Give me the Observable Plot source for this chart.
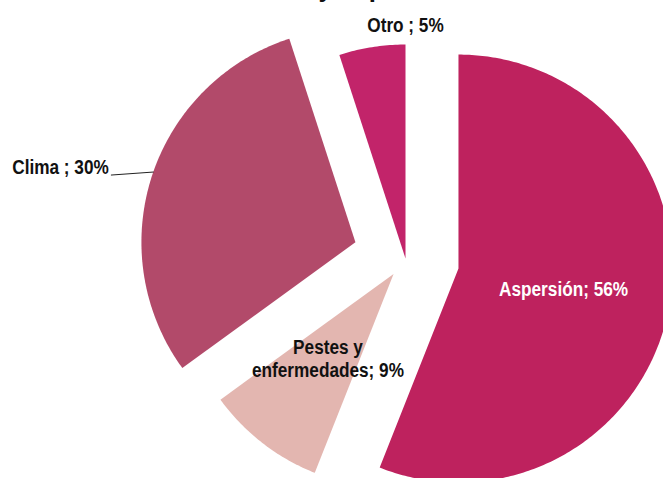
<!DOCTYPE html>
<html>
<head>
<meta charset="utf-8">
<script src="https://cdn.jsdelivr.net/npm/d3@7"></script>
<script src="https://cdn.jsdelivr.net/npm/@observablehq/plot@0.6"></script>
<style>
  html, body { margin: 0; padding: 0; background: #fff; }
  #chart { width: 663px; height: 478px; overflow: hidden; }
</style>
</head>
<body>
<div id="chart"></div>
<script>
// ---- data ----
const categories = ["Aspersión", "Pestes y enfermedades", "Clima", "Otro"];
const shares = [56, 9, 30, 5];
const labels = ["Aspersión; 56%", "Pestes y\nenfermedades; 9%", "Clima ; 30%", "Otro ; 5%"];
const titlePrefix = "Causas de merma ";
const titleRest = "y la pérdida de cosecha";

// ---- style / layout ----
const colors = ["#BE225E", "#E3B6B0", "#B24A6A", "#C2246A"];
const explode = [0.252, 0.091, 0.246, 0];   // radial offset of each slice (in radii)
const W = 663, H = 478, R = 214, CX = 405, CY = 258;
const FONT = "'Liberation Sans', Arial, sans-serif";
const NARROW = 0.86;   // horizontal condensation to imitate Arial Narrow
const TITLE_SIZE = 30;

const arcs = d3.pie().sort(null).value(d => d)(shares);
const pts = [];
const slices = arcs.map((a, i) => {
  const m = (a.startAngle + a.endAngle) / 2;
  const ax = explode[i] * Math.sin(m), ay = explode[i] * Math.cos(m);
  pts.push({cat: categories[i], x: ax, y: ay});
  const n = Math.max(8, Math.ceil((a.endAngle - a.startAngle) * 80));
  for (let k = 0; k <= n; k++) {
    const t = a.startAngle + (a.endAngle - a.startAngle) * k / n;
    pts.push({cat: categories[i], x: ax + Math.sin(t), y: ay + Math.cos(t)});
  }
  pts.push({cat: categories[i], x: ax, y: ay});
  return {i, m, ax, ay, a};
});

// label positions
const inside = [], outside = [], leaders = [];
slices.forEach(s => {
  const cat = categories[s.i];
  if (cat === "Aspersión" || cat === "Pestes y enfermedades") {
    inside.push({label: labels[s.i], x: s.ax + 0.5 * Math.sin(s.m), y: s.ay + 0.5 * Math.cos(s.m),
                 fill: cat === "Aspersión" ? "#fff" : "#111"});
  } else if (cat === "Otro") {
    const t = s.a.endAngle;
    outside.push({label: labels[s.i], x: s.ax + 1.09 * Math.sin(t), y: s.ay + 1.09 * Math.cos(t), anchor: "middle"});
  } else {
    const px = s.ax + Math.sin(s.m + 0.02), py = s.ay + Math.cos(s.m + 0.02);
    const ex = px - 0.196, ey = py - 0.014;
    leaders.push({x: px, y: py}, {x: ex, y: ey});
    outside.push({label: labels[s.i], x: ex - 0.012, y: ey + 0.035, anchor: "end"});
  }
});

// place the (cropped) title so that its "y" lands where the reference shows it
const ctx = document.createElement("canvas").getContext("2d");
ctx.font = `bold ${TITLE_SIZE}px 'Liberation Sans'`;
const prefixW = ctx.measureText(titlePrefix).width * NARROW;
const titleX = 318 - prefixW;

const chart = Plot.plot({
  width: W, height: H,
  margin: 0,
  style: {fontFamily: FONT, background: "#fff", overflow: "hidden"},
  x: {domain: [-CX / R, (W - CX) / R], axis: null},
  y: {domain: [-(H - CY) / R, CY / R], axis: null},
  color: {domain: categories, range: colors},
  marks: [
    Plot.line(pts, {x: "x", y: "y", z: "cat", fill: "cat", stroke: null, curve: "linear"}),
    Plot.line(leaders, {x: "x", y: "y", stroke: "#222", strokeWidth: 1}),
    Plot.text(inside, {x: "x", y: "y", text: "label", fill: "fill", fontSize: 20, fontWeight: "bold", lineHeight: 1.15, textAnchor: "middle", lineAnchor: "middle"}),
    Plot.text(outside, {x: "x", y: "y", text: "label", fill: "#111", fontSize: 20, fontWeight: "bold", textAnchor: "end", lineAnchor: "middle", filter: d => d.anchor === "end"}),
    Plot.text(outside, {x: "x", y: "y", text: "label", fill: "#111", fontSize: 20, fontWeight: "bold", textAnchor: "middle", lineAnchor: "middle", filter: d => d.anchor === "middle"}),
    Plot.text([titlePrefix + titleRest], {frameAnchor: "top-left", dx: titleX, dy: -4.5, text: d => d, fill: "#111", fontSize: TITLE_SIZE, fontWeight: "bold", textAnchor: "start", lineAnchor: "bottom"})
  ]
});
document.getElementById("chart").appendChild(chart);

// condense all texts horizontally (narrow bold look of the reference)
chart.querySelectorAll("text").forEach(t => {
  const tspans = t.querySelectorAll("tspan");
  const targets = tspans.length ? [...tspans] : [t];
  targets.forEach(el => {
    const L = el.getComputedTextLength();
    el.setAttribute("textLength", (L * NARROW).toFixed(2));
    el.setAttribute("lengthAdjust", "spacingAndGlyphs");
  });
});
</script>
</body>
</html>
